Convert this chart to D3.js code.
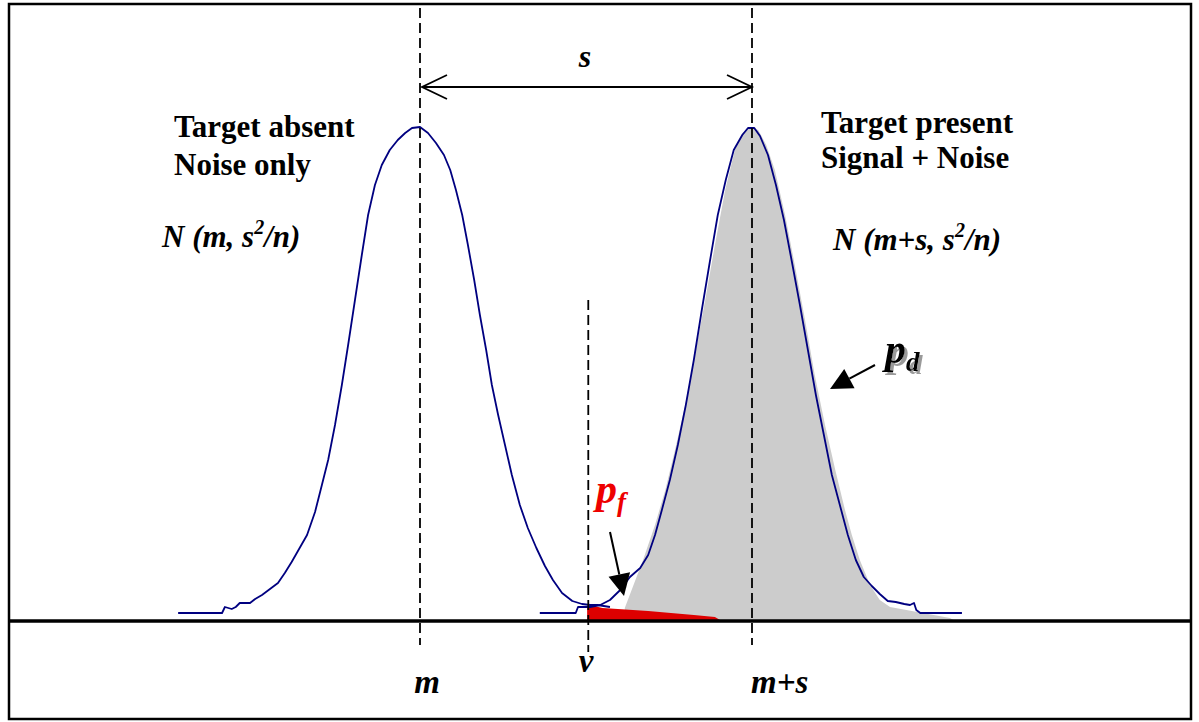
<!DOCTYPE html>
<html><head><meta charset="utf-8">
<script src="https://cdn.jsdelivr.net/npm/d3@7"></script>
<style>html,body{margin:0;padding:0;background:#fff;}svg{display:block;}</style>
</head><body>
<script>
// Parameters (sigma units, m = 0)
const mVal = 0, sVal = 5.82, vVal = 2.95;
// Histogram-like density (counts) of noise only: [x, count]
const noiseCurve = [[-4.24,8],[-3.47,8],[-3.42,14],[-3.30,12],[-3.23,14],[-3.16,18],[-2.98,18],[-2.89,22],[-2.77,26],[-2.63,32],[-2.49,38],[-2.37,48],[-2.25,59],[-2.11,73],[-1.98,86],[-1.84,109],[-1.72,136],[-1.61,161],[-1.49,196],[-1.37,236],[-1.26,276],[-1.14,321],[-1.02,366],[-0.91,406],[-0.79,436],[-0.67,456],[-0.53,471],[-0.39,481],[-0.26,488],[-0.14,493],[0,494],[0.14,488],[0.28,478],[0.42,466],[0.53,451],[0.63,431],[0.74,406],[0.84,376],[0.95,341],[1.05,306],[1.16,271],[1.26,236],[1.37,206],[1.49,176],[1.61,146],[1.75,116],[1.89,93],[2.04,73],[2.19,55],[2.33,41],[2.49,28],[2.67,20],[2.84,17],[2.98,16],[3.11,16],[3.33,14]];
// Signal + noise
const signalCurve = [[2.10,8],[2.73,8],[2.77,14],[2.98,14],[3.16,16],[3.33,21],[3.51,31],[3.68,44],[3.86,53],[4.00,66],[4.12,86],[4.24,111],[4.38,141],[4.52,176],[4.66,216],[4.80,261],[4.94,311],[5.08,359],[5.22,406],[5.36,441],[5.50,471],[5.65,486],[5.75,493],[5.86,493],[5.96,485],[6.10,466],[6.24,436],[6.38,401],[6.52,359],[6.66,316],[6.80,271],[6.94,226],[7.08,186],[7.22,146],[7.36,116],[7.50,86],[7.64,61],[7.78,44],[7.92,35],[8.06,27],[8.20,20],[8.34,19],[8.49,17],[8.59,16],[8.66,18],[8.70,11],[8.77,8],[9.50,8]];
// Detection probability region (grey)
const pdFill = [[3.59,13],[3.91,61],[4.12,96],[4.30,131],[4.47,171],[4.65,216],[4.82,266],[5.00,321],[5.17,376],[5.35,431],[5.52,471],[5.65,488],[5.79,493],[5.93,491],[6.07,476],[6.22,451],[6.40,406],[6.57,356],[6.75,301],[6.92,246],[7.10,196],[7.28,151],[7.45,111],[7.57,86],[7.71,61],[7.89,36],[8.06,21],[8.24,14],[9.29,3],[9.38,0]];
// False alarm region (red)
const pfFill = [[2.93,15],[3.05,15],[3.20,13],[4.00,10],[4.80,6],[5.17,4],[5.26,1]];

const W = 1199, H = 722;
const svg = d3.select("body").append("svg").attr("width", W).attr("height", H);
const defs = svg.append("defs");
const f = defs.append("filter").attr("id", "shadow").attr("x", "-20%").attr("y", "-20%").attr("width", "150%").attr("height", "150%");
f.append("feDropShadow").attr("dx", 3).attr("dy", 3).attr("stdDeviation", 0.6).attr("flood-color", "#9a9a9a").attr("flood-opacity", 1);

const x = d3.scaleLinear().domain([0, 5.82]).range([420, 752]);
const y = d3.scaleLinear().domain([0, 494]).range([621, 127]);
const serif = "'Liberation Serif','Times New Roman',serif";

// border
svg.append("rect").attr("x", 9).attr("y", 4).attr("width", 1182).attr("height", 715)
  .attr("fill", "#fff").attr("stroke", "#000").attr("stroke-width", 2.5);

const area = d3.area().x(d => x(d[0])).y0(y(0)).y1(d => y(d[1]));
svg.append("path").datum(pdFill).attr("d", area).attr("fill", "#cccccc");
svg.append("path").datum(pfFill).attr("d", area).attr("fill", "#dd0000");

const line = d3.line().x(d => x(d[0])).y(d => y(d[1]));
[noiseCurve, signalCurve].forEach(c => {
  svg.append("path").datum(c).attr("d", line).attr("fill", "none")
    .attr("stroke", "#000080").attr("stroke-width", 1.8).attr("stroke-linejoin", "round");
});

// dashed lines
const dashed = [[mVal, 8, 645], [mVal + sVal, 8, 645], [vVal, 300, 652]];
dashed.forEach(([v, y1, y2]) => {
  svg.append("line").attr("x1", x(v)).attr("x2", x(v)).attr("y1", y1).attr("y2", y2)
    .attr("stroke", "#000").attr("stroke-width", 1.8).attr("stroke-dasharray", "10,5");
});

// baseline
svg.append("line").attr("x1", 10).attr("x2", 1190).attr("y1", y(0)).attr("y2", y(0))
  .attr("stroke", "#000").attr("stroke-width", 3.5);

// s arrow
const ay = 87, x1 = x(mVal) + 2, x2 = x(mVal + sVal);
svg.append("line").attr("x1", x1).attr("x2", x2).attr("y1", ay).attr("y2", ay).attr("stroke", "#000").attr("stroke-width", 1.8);
svg.append("path").attr("d", `M${x1+25},${ay-12}L${x1},${ay}L${x1+25},${ay+12}`).attr("fill", "none").attr("stroke", "#000").attr("stroke-width", 1.8);
svg.append("path").attr("d", `M${x2-25},${ay-12}L${x2},${ay}L${x2-25},${ay+12}`).attr("fill", "none").attr("stroke", "#000").attr("stroke-width", 1.8);

function txt(t, px, py, opts = {}) {
  return svg.append("text").attr("x", px).attr("y", py).text(t)
    .attr("font-family", serif).attr("font-size", opts.size || 30)
    .attr("font-weight", opts.weight || "bold").attr("font-style", opts.style || "normal")
    .attr("fill", opts.fill || "#000").attr("text-anchor", opts.anchor || "start");
}
txt("s", 585, 67, {size: 32, style: "italic", anchor: "middle"});
txt("Target absent", 174, 137, {size: 31});
txt("Noise only", 174, 175, {size: 31});
txt("Target present", 821, 133, {size: 31});
txt("Signal + Noise", 821, 168, {size: 31});

function nLabel(inner, px, py) {
  const t = svg.append("text").attr("x", px).attr("y", py).attr("font-family", serif)
    .attr("font-size", 31).attr("font-weight", "bold").attr("font-style", "italic");
  t.append("tspan").text("N (" + inner + ", s");
  t.append("tspan").text("2").attr("font-size", 20).attr("dy", -13);
  t.append("tspan").text("/n)").attr("dy", 13);
}
nLabel("m", 162, 247);
nLabel("m+s", 833, 250);

function pLabel(sub, px, py, fill, shadow) {
  const t = svg.append("text").attr("x", px).attr("y", py).attr("font-family", serif)
    .attr("font-weight", "bold").attr("font-style", "italic").attr("fill", fill);
  if (shadow) t.attr("filter", "url(#shadow)");
  t.append("tspan").text("p").attr("font-size", 42);
  t.append("tspan").text(sub).attr("font-size", 27).attr("dy", 8);
}
pLabel("d", 885, 363, "#000", true);
pLabel("f", 596, 503, "#ee0000", false);

// pointer arrows
function pointer(xa, ya, xb, yb) {
  const ang = Math.atan2(yb - ya, xb - xa), L = 22, Wd = 11;
  const bx = xb - L * Math.cos(ang), by = yb - L * Math.sin(ang);
  svg.append("line").attr("x1", xa).attr("y1", ya).attr("x2", bx).attr("y2", by).attr("stroke", "#000").attr("stroke-width", 2);
  const px = -Math.sin(ang) * Wd, py = Math.cos(ang) * Wd;
  svg.append("path").attr("d", `M${xb},${yb}L${bx+px},${by+py}L${bx-px},${by-py}Z`).attr("fill", "#000");
}
pointer(875, 365, 830, 389);
pointer(610, 532, 624, 596);

// bottom labels
txt("m", 427, 693, {size: 33, style: "italic", anchor: "middle"});
txt("v", 586, 672, {size: 33, style: "italic", anchor: "middle"});
txt("m+s", 751, 693, {size: 33, style: "italic"});
</script>
</body></html>
